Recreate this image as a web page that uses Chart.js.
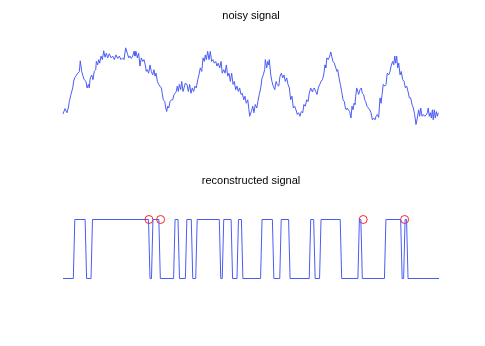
<!DOCTYPE html>
<html>
<head>
<meta charset="utf-8">
<script src="https://cdn.jsdelivr.net/npm/chart.js@4/dist/chart.umd.min.js"></script>
<style>
  body { margin: 0; background: #fff; }
  .wrap { position: absolute; left: 0; width: 485px; height: 173px; }
</style>
</head>
<body>
<div class="wrap" style="top:0"><canvas id="noisy" width="485" height="173"></canvas></div>
<div class="wrap" style="top:173px"><canvas id="recon" width="485" height="173"></canvas></div>
<script>
// noisy signal, sample index and value
const noisyX = [0.0, 1.4, 2.7, 3.6, 4.3, 5.4, 6.6, 7.3, 8.1, 9.0, 10.0, 11.1, 11.7, 12.7, 13.6, 14.4, 15.6, 16.3, 17.2, 17.8,
  18.5, 19.5, 20.3, 21.2, 22.2, 22.6, 23.5, 24.2, 24.9, 25.8, 26.7, 27.6, 28.5, 29.4, 30.3, 31.4, 32.6, 33.7, 34.8, 35.9,
  37.1, 38.2, 39.3, 40.5, 41.4, 42.5, 43.6, 44.6, 45.4, 46.3, 47.3, 48.2, 48.8, 49.5, 50.4, 51.3, 52.2, 53.1, 54.1, 54.9,
  55.8, 56.5, 57.2, 58.1, 59.0, 59.9, 60.8, 61.7, 62.4, 63.1, 64.0, 64.9, 65.8, 66.7, 67.3, 68.0, 69.0, 69.7, 70.3, 71.0,
  71.7, 72.6, 73.5, 74.4, 75.3, 76.2, 76.8, 77.5, 78.2, 78.9, 79.8, 80.5, 81.4, 82.1, 82.9, 84.1, 85.0, 85.9, 86.8, 87.7,
  88.6, 89.5, 90.4, 91.4, 92.2, 93.1, 94.1, 95.0, 95.8, 96.5, 97.2, 98.1, 99.0, 99.9, 100.8, 101.7, 102.6, 103.6, 104.4, 105.3,
  106.3, 107.2, 108.0, 109.0, 109.9, 110.8, 111.7, 112.6, 113.5, 114.4, 115.3, 116.2, 117.1, 118.0, 118.9, 119.8, 120.7, 121.6, 122.6, 123.4,
  124.3, 125.3, 126.1, 126.6, 127.7, 128.7, 129.5, 130.4, 131.4, 132.2, 133.1, 134.1, 135.0, 135.8, 136.8, 137.2, 138.2, 138.8, 139.5, 139.9,
  140.9, 141.7, 142.6, 143.6, 144.5, 145.3, 146.3, 147.2, 148.1, 149.0, 149.9, 150.8, 151.7, 152.6, 153.5, 154.4, 155.3, 156.2, 157.1, 158.0,
  158.9, 159.8, 160.7, 161.6, 162.6, 163.4, 164.3, 165.3, 166.2, 167.0, 168.0, 168.9, 169.5, 170.4, 171.4, 172.3, 173.1, 174.1, 175.0, 175.9,
  176.8, 177.7, 178.2, 179.0, 179.9, 180.9, 181.6, 182.2, 183.1, 184.0, 185.0, 185.8, 186.3, 187.2, 188.1, 189.0, 189.9, 190.8, 191.5, 192.1,
  192.8, 193.5, 194.4, 195.3, 196.0, 196.7, 197.4, 198.0, 198.5, 199.2, 199.9, 200.5, 201.4, 202.3, 203.0, 203.9, 204.6, 205.3, 206.2, 207.1,
  208.0, 208.9, 209.8, 210.7, 211.6, 212.3, 213.2, 214.1, 215.0, 215.7, 216.4, 217.2, 218.2, 219.1, 219.9, 220.9, 221.8, 222.7, 223.6, 224.3,
  225.0, 225.6, 226.3, 227.0, 227.7, 228.6, 229.4, 230.4, 231.3, 232.2, 233.1, 234.0, 234.9, 235.8, 236.7, 237.6, 238.5, 239.4, 240.3, 241.2,
  241.9, 242.6, 243.5, 244.4, 245.3, 246.2, 247.1, 247.7, 248.4, 249.1, 249.8, 250.5, 251.1, 251.8, 252.5, 253.2, 253.9, 254.5];
const noisyV = [0.01, 0.10, 0.03, 0.11, 0.22, 0.34, 0.45, 0.57, 0.63, 0.66, 0.70, 0.73, 0.91, 0.73, 0.65, 0.59, 0.56, 0.45, 0.51, 0.45,
  0.62, 0.67, 0.59, 0.73, 0.76, 0.90, 0.84, 0.93, 0.87, 0.99, 0.93, 1.08, 0.97, 1.04, 0.96, 1.03, 0.96, 0.99, 0.93, 1.01,
  0.95, 0.99, 0.93, 0.96, 0.93, 1.13, 1.04, 0.96, 0.99, 0.95, 0.99, 1.07, 0.99, 1.07, 0.96, 1.04, 0.82, 0.96, 0.90, 0.93,
  0.84, 0.73, 0.76, 0.70, 0.84, 0.73, 0.67, 0.76, 0.65, 0.70, 0.56, 0.51, 0.48, 0.45, 0.36, 0.25, 0.22, 0.11, 0.05, 0.14,
  0.11, 0.22, 0.25, 0.25, 0.34, 0.36, 0.39, 0.48, 0.39, 0.51, 0.42, 0.56, 0.39, 0.45, 0.53, 0.51, 0.39, 0.51, 0.36, 0.45,
  0.39, 0.48, 0.45, 0.59, 0.67, 0.79, 0.73, 0.96, 0.90, 1.01, 0.93, 1.07, 0.93, 1.07, 0.90, 0.93, 0.87, 0.90, 0.82, 0.87,
  0.79, 0.90, 0.70, 0.76, 0.70, 0.84, 0.65, 0.70, 0.56, 0.70, 0.51, 0.56, 0.42, 0.48, 0.39, 0.45, 0.34, 0.36, 0.25, 0.31,
  0.19, 0.25, 0.08, -0.03, 0.05, 0.14, 0.03, 0.17, 0.11, 0.22, 0.34, 0.45, 0.62, 0.67, 0.76, 0.93, 0.79, 0.90, 0.84, 0.93,
  0.67, 0.56, 0.48, 0.42, 0.56, 0.51, 0.48, 0.65, 0.70, 0.62, 0.67, 0.56, 0.62, 0.51, 0.45, 0.25, 0.31, 0.11, 0.14, 0.08,
  0.00, 0.03, -0.03, 0.05, 0.03, 0.17, 0.14, 0.25, 0.22, 0.36, 0.45, 0.39, 0.42, 0.45, 0.39, 0.34, 0.45, 0.51, 0.56, 0.59,
  0.67, 0.84, 0.79, 0.96, 0.93, 0.99, 1.06, 0.99, 0.90, 0.87, 0.79, 0.73, 0.76, 0.62, 0.51, 0.39, 0.25, 0.22, 0.11, 0.08,
  0.11, 0.08, 0.05, -0.06, 0.14, 0.08, 0.19, 0.17, 0.31, 0.45, 0.39, 0.34, 0.42, 0.45, 0.36, 0.34, 0.25, 0.22, 0.14, 0.11,
  0.08, 0.03, -0.09, -0.06, -0.09, -0.03, 0.00, -0.05, 0.28, 0.19, 0.34, 0.51, 0.48, 0.51, 0.70, 0.67, 0.73, 0.84, 0.90, 0.84,
  0.99, 0.87, 0.99, 0.79, 0.87, 0.67, 0.73, 0.59, 0.56, 0.45, 0.48, 0.39, 0.28, 0.28, 0.17, 0.11, 0.00, -0.17, -0.06, 0.08,
  -0.03, 0.11, -0.03, 0.00, -0.03, -0.01, 0.03, 0.11, -0.03, 0.03, -0.06, 0.08, -0.09, 0.08, -0.06, 0.05, -0.03, 0.03];

// reconstructed signal: corner samples of the 0/1 steps
const recX = [0, 7, 8, 15, 16, 19, 20, 58, 59, 60, 61, 65, 66, 75, 76, 78, 79, 83, 84, 87, 88, 90, 91, 106, 107, 108, 109, 114,
  115, 118, 119, 121, 122, 134, 135, 142, 143, 147, 148, 153, 154, 167, 168, 170, 171, 174, 175, 188, 189, 200, 201, 202,
  203, 218, 219, 229, 230, 231, 232, 233, 234, 255];
const recV = [0, 0, 1, 1, 0, 0, 1, 1, 0, 0, 1, 1, 0, 0, 1, 1, 0, 0, 1, 1, 0, 0, 1, 1, 0, 0, 1, 1,
  0, 0, 1, 1, 0, 0, 1, 1, 0, 0, 1, 1, 0, 0, 1, 1, 0, 0, 1, 1, 0, 0, 1, 1,
  0, 0, 1, 1, 0, 0, 1, 1, 0, 0];

// red circles
const markX = [58.3, 66.2, 203.6, 231.7];
const markV = [1, 1, 1, 1];

const xMin = 0, xMax = 255;
const yMin = -0.5, yMax = 1.5;

function toPts(xs, ys) {
    return xs.map((x, i) => ({ x: x, y: ys[i] }));
}

function opts(title, titlePad, pad) {
    return {
        responsive: false,
        animation: false,
        layout: { padding: pad },
        plugins: {
            legend: { display: false },
            tooltip: { enabled: false },
            title: {
                display: true,
                text: title,
                color: '#000',
                font: { family: 'Liberation Sans, Arial, sans-serif', size: 11, weight: 'normal' },
                padding: titlePad
            }
        },
        scales: {
            x: { type: 'linear', min: xMin, max: xMax, display: false },
            y: { min: yMin, max: yMax, display: false }
        }
    };
}

const lineBlue = '#4a5cf6';

new Chart(document.getElementById('noisy').getContext('2d'), {
    type: 'line',
    data: {
        datasets: [{
            data: toPts(noisyX, noisyV),
            borderColor: lineBlue,
            borderWidth: 1,
            pointRadius: 0,
            tension: 0,
            fill: false,
            clip: false
        }]
    },
    options: opts('noisy signal', { top: 9.4, bottom: 3.4 }, { left: 63, right: 46, top: 0, bottom: 29 })
});

new Chart(document.getElementById('recon').getContext('2d'), {
    type: 'line',
    data: {
        datasets: [{
            data: toPts(recX, recV),
            borderColor: lineBlue,
            borderWidth: 1,
            pointRadius: 0,
            tension: 0,
            fill: false,
            clip: false
        }, {
            data: toPts(markX, markV),
            showLine: false,
            borderColor: '#ff2020',
            backgroundColor: 'rgba(0,0,0,0)',
            borderWidth: 1,
            pointRadius: 4,
            pointStyle: 'circle',
            clip: false
        }]
    },
    options: opts('reconstructed signal', { top: 1.4, bottom: 2.4 }, { left: 63, right: 46, top: 0, bottom: 38 })
});
</script>
</body>
</html>
